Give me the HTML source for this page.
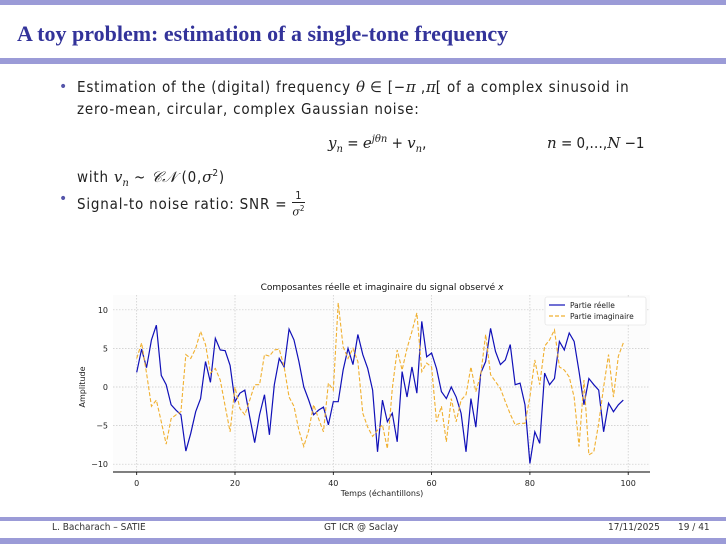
<!DOCTYPE html>
<html><head><meta charset="utf-8">
<style>
body{margin:0;width:726px;height:544px;overflow:hidden;background:#fff;font-family:"DejaVu Sans","Liberation Sans",sans-serif;position:relative}
.bar{position:absolute;left:0;width:726px;background:#9b9bd7}
#title{position:absolute;left:17px;top:21px;font-family:"Liberation Serif",serif;font-weight:bold;font-size:22px;color:#33339a;letter-spacing:0px}
.txt{position:absolute;font-size:15px;letter-spacing:0.8px;color:#222;font-family:"DejaVu Sans Condensed","DejaVu Sans",sans-serif;white-space:nowrap}
.eq{letter-spacing:0}
.bul{position:absolute;color:#5555aa;font-size:14px}
i{font-family:"DejaVu Serif",serif;font-style:italic;letter-spacing:0}
.foot{position:absolute;top:522px;font-size:10px;color:#333;font-family:"DejaVu Sans Condensed","DejaVu Sans",sans-serif}
</style></head><body>
<div class="bar" style="top:0;height:5px"></div>
<div id="title">A toy problem: estimation of a single-tone frequency</div>
<div class="bar" style="top:58px;height:6px"></div>
<div class="bul" style="left:59px;top:79px">•</div>
<div class="txt" style="left:77px;top:78px">Estimation of the (digital) frequency <i>θ</i> ∈ [−<i>π</i> ,<i>π</i>[ of a complex sinusoid in</div>
<div class="txt" style="left:77px;top:100px">zero-mean, circular, complex Gaussian noise:</div>
<div class="txt eq" style="left:328px;top:134px"><i>y<sub style="font-size:10px">n</sub></i> = <i>e<sup style="font-size:10px">jθn</sup></i> + <i>v<sub style="font-size:10px">n</sub></i>,</div>
<div class="txt eq" style="left:547px;top:134px"><i>n</i> = 0,…,<i>N</i> −1</div>
<div class="txt" style="left:77px;top:168px">with <i>v<sub style="font-size:10px">n</sub></i> ~ <i>𝒞𝒩</i> (0,<i>σ</i><sup style="font-size:10px">2</sup>)</div>
<div class="bul" style="left:59px;top:191px">•</div>
<div class="txt" style="left:77px;top:190px">Signal-to noise ratio: SNR = <span style="display:inline-block;vertical-align:middle;text-align:center;font-size:11px;line-height:12px"><span style="display:block;border-bottom:1px solid #222">1</span><i>σ</i><sup style="font-size:8px">2</sup></span></div>

<svg id="chart" width="726" height="544" style="position:absolute;left:0;top:0" font-family="DejaVu Sans, Liberation Sans, sans-serif"></svg>

<div class="bar" style="top:517px;height:4px"></div>
<div class="foot" style="left:52px">L. Bacharach – SATIE</div>
<div class="foot" style="left:324px">GT ICR @ Saclay</div>
<div class="foot" style="left:608px">17/11/2025</div>
<div class="foot" style="left:678px">19 / 41</div>
<div class="bar" style="top:538px;height:6px"></div>

<script>
const realPart=[1.9,4.9,2.5,6.1,8.0,1.5,0.3,-2.3,-3.0,-3.6,-8.3,-6.0,-3.2,-1.5,3.3,0.6,6.3,4.8,4.7,2.8,-1.9,-0.8,-0.4,-3.9,-7.2,-3.6,-1.0,-6.2,0.3,3.7,2.6,7.5,6.1,3.3,0,-1.7,-3.6,-3.0,-2.6,-4.9,-1.9,-1.9,2.2,5.0,2.9,6.8,4.2,2.4,-0.4,-8.4,-1.7,-4.5,-3.4,-7.1,2.0,-1.3,2.6,-0.8,8.5,3.9,4.4,2.4,-0.6,-1.5,0,-1.3,-3.4,-8.4,-1.5,-5.2,1.8,3.3,7.6,4.6,2.9,3.5,5.5,0.3,0.5,-2.3,-9.9,-5.8,-7.3,1.8,0.3,1.1,5.9,4.8,7.0,5.9,2.0,-2.3,1.1,0.3,-0.4,-5.8,-2.1,-3.2,-2.3,-1.7];
const imagPart=[3.7,5.7,1.8,-2.5,-1.7,-4.5,-7.4,-4.1,-3.6,-3.2,4.2,3.7,5.0,7.2,5.5,1.8,2.4,0.9,-2.5,-5.8,0,-2.8,-3.6,-1.7,0.3,0.3,4.2,4.0,4.8,4.9,2.6,-1.3,-2.5,-5.6,-7.7,-5.6,-2.3,-4.1,-5.8,0.5,-0.4,10.9,5.2,3.7,5.0,3.3,-3.4,-5.2,-6.4,-5.6,-4.9,-8.0,-0.2,4.8,2.2,5.0,7.2,9.6,2.0,3.1,2.6,-4.5,-2.5,-7.1,-1.5,-4.5,-1.7,-1.0,2.6,-0.6,1.6,6.8,1.6,0.7,-0.2,-1.9,-3.5,-4.9,-4.7,-4.7,-1.3,3.5,0.3,5.3,6.1,7.4,2.6,2.2,1.3,-1.3,-7.7,0.9,-8.8,-8.4,-4.7,0,4.2,-1.3,4.0,5.7];
const xTicks=[0,20,40,60,80,100];
const yTicks=[10,5,0,-5,-10];
const legendLabels=["Partie réelle","Partie imaginaire"];

const NS="http://www.w3.org/2000/svg";
const svg=document.getElementById('chart');
const X0=136.7,XS=4.915,Y0=387,YS=7.72;
const sx=v=>X0+v*XS, sy=v=>Y0-v*YS;
const L=113,R=650,T=295,B=472;
function mk(tag,attrs,parent){const e=document.createElementNS(NS,tag);for(const k in attrs)e.setAttribute(k,attrs[k]);(parent||svg).appendChild(e);return e;}

const bg=mk('rect',{x:L,y:T,width:R-L,height:B-T,fill:'#fcfcfc'});


xTicks.forEach(t=>{
  const g=mk('line',{x1:sx(t),x2:sx(t),y1:T,y2:B,stroke:'#c8c8c8','stroke-width':0.7,'stroke-dasharray':'1.5,1.5'});
  
  
  const tk=mk('line',{x1:sx(t),x2:sx(t),y1:B,y2:B+3,stroke:'#000','stroke-width':0.8});
  
  
  const lb=mk('text',{x:sx(t),y:B+14,'font-size':8,'text-anchor':'middle',fill:'#222'});lb.textContent=t;
  
  
});
yTicks.forEach(t=>{
  const g=mk('line',{x1:L,x2:R,y1:sy(t),y2:sy(t),stroke:'#c8c8c8','stroke-width':0.7,'stroke-dasharray':'1.5,1.5'});
  
  
  const lb=mk('text',{x:L-5,y:sy(t)+3,'font-size':8,'text-anchor':'end',fill:'#222'});lb.textContent=(t<0?'−':'')+Math.abs(t);
  
  
});
const ax=mk('line',{x1:L,x2:R,y1:B,y2:B,stroke:'#000','stroke-width':0.9});



const p1=mk('polyline',{points:realPart.map((v,i)=>sx(i)+','+sy(v)).join(' '),fill:'none',stroke:'#1010b8','stroke-width':1.2});


const p2=mk('polyline',{points:imagPart.map((v,i)=>sx(i)+','+sy(v)).join(' '),fill:'none',stroke:'#f0b030','stroke-width':1.1,'stroke-dasharray':'4,2'});



const tt=mk('text',{x:382,y:290,'font-size':9,'text-anchor':'middle',fill:'#111'});
tt.innerHTML='Composantes réelle et imaginaire du signal observé <tspan font-style="italic">x</tspan>';


const xl=mk('text',{x:382,y:496,'font-size':8,'text-anchor':'middle',fill:'#222'});xl.textContent='Temps (échantillons)';


const yl=mk('text',{x:0,y:0,'font-size':8,'text-anchor':'middle',fill:'#222',transform:'translate(85,387) rotate(-90)'});yl.textContent='Amplitude';



const lg=mk('rect',{x:545,y:297,width:101,height:28,fill:'#fff',stroke:'#ddd','stroke-width':0.6,rx:2});


const lstyles=[{stroke:'#1010b8'},{stroke:'#f0b030','stroke-dasharray':'4,2'}];
legendLabels.forEach((s,i)=>{
  const y=305+i*11;
  const ln=mk('line',Object.assign({x1:549,x2:565,y1:y,y2:y,'stroke-width':1.2},lstyles[i]));
  
  
  const t=mk('text',{x:570,y:y+3,'font-size':7.5,fill:'#222'});t.textContent=s;
  
  
});
</script>
</body></html>
